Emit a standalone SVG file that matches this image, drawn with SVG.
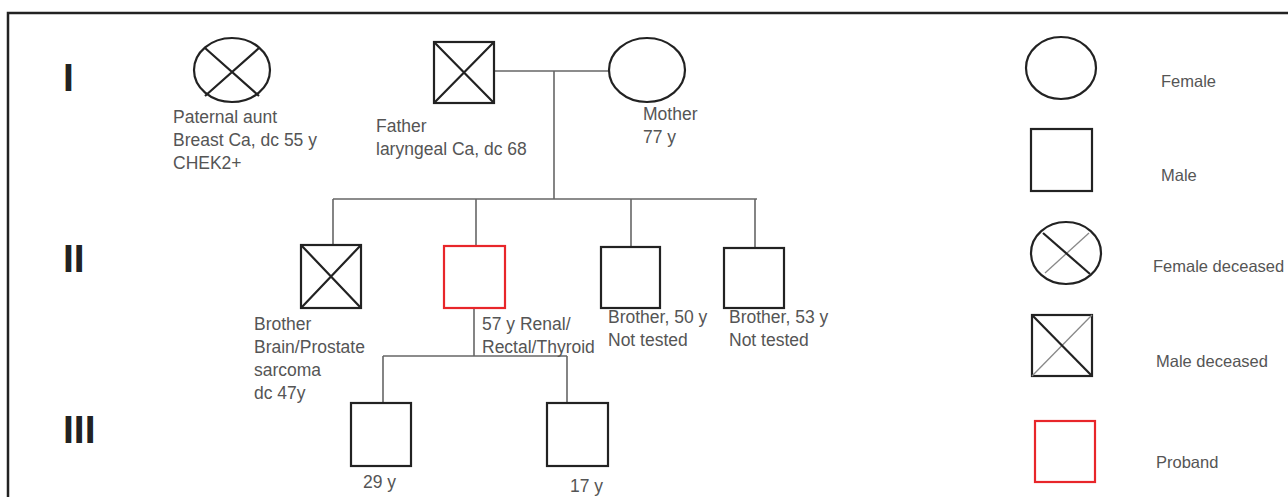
<svg xmlns="http://www.w3.org/2000/svg" width="1288" height="497" viewBox="0 0 1288 497">
<style>
.sym{fill:none;stroke:#222;stroke-width:2.2}
.thin{fill:none;stroke:#888;stroke-width:1.3}
.red{fill:none;stroke:#e8262a;stroke-width:2.2}
.con{fill:none;stroke:#666;stroke-width:1.6}
.t{font-family:"Liberation Sans",Arial,sans-serif;font-size:17.5px;fill:#555}
.lg{font-family:"Liberation Sans",Arial,sans-serif;font-size:16.5px;fill:#555}
.gen{font-family:"Liberation Sans",Arial,sans-serif;font-size:39px;font-weight:bold;fill:#222}
</style>
<rect width="1288" height="497" fill="#fff"/>
<path d="M8,497 V13 H1288" fill="none" stroke="#222" stroke-width="2.5"/>
<g id="gen-labels">
<text class="gen" x="63" y="91">I</text>
<text class="gen" x="63" y="272">II</text>
<text class="gen" x="63" y="443">III</text>
</g>
<g id="connectors">
<path class="con" d="M494,71 H609"/>
<path class="con" d="M554,71 V199"/>
<path class="con" d="M333,199 H757"/>
<path class="con" d="M333,199 V245"/>
<path class="con" d="M476,199 V246"/>
<path class="con" d="M631,199 V247"/>
<path class="con" d="M755,199 V248"/>
<path class="con" d="M474,308 V356"/>
<path class="con" d="M383,356 H567"/>
<path class="con" d="M383,356 V403"/>
<path class="con" d="M567,356 V403"/>
</g>
<g id="aunt">
<ellipse class="sym" cx="232" cy="70" rx="38" ry="32"/>
<path class="sym" d="M205,48 L259,96 M259,48 L205,96"/>
<text class="t" x="173" y="123">Paternal aunt</text>
<text class="t" x="173" y="146">Breast Ca, dc 55 y</text>
<text class="t" x="173" y="169">CHEK2+</text>
</g>
<g id="father">
<rect class="sym" x="434" y="42" width="60" height="61"/>
<path class="sym" d="M434,42 L494,103 M494,42 L434,103"/>
<text class="t" x="376" y="132">Father</text>
<text class="t" x="376" y="155">laryngeal Ca, dc 68</text>
</g>
<g id="mother">
<ellipse class="sym" cx="647" cy="70" rx="38" ry="32"/>
<text class="t" x="643" y="120">Mother</text>
<text class="t" x="643" y="143">77 y</text>
</g>
<g id="brother-deceased">
<rect class="sym" x="301" y="245" width="60" height="63"/>
<path class="sym" d="M301,245 L361,308 M361,245 L301,308"/>
<text class="t" x="254" y="330">Brother</text>
<text class="t" x="254" y="353">Brain/Prostate</text>
<text class="t" x="254" y="376">sarcoma</text>
<text class="t" x="254" y="399">dc 47y</text>
</g>
<g id="proband">
<rect class="red" x="444" y="246" width="61" height="62"/>
<text class="t" x="482" y="330">57 y Renal/</text>
<text class="t" x="482" y="353">Rectal/Thyroid</text>
</g>
<g id="brother-50">
<rect class="sym" x="601" y="247" width="59" height="61"/>
<text class="t" x="608" y="323">Brother, 50 y</text>
<text class="t" x="608" y="346">Not tested</text>
</g>
<g id="brother-53">
<rect class="sym" x="724" y="248" width="60" height="60"/>
<text class="t" x="729" y="323">Brother, 53 y</text>
<text class="t" x="729" y="346">Not tested</text>
</g>
<g id="child-29">
<rect class="sym" x="351" y="403" width="60" height="63"/>
<text class="t" x="363" y="488">29 y</text>
</g>
<g id="child-17">
<rect class="sym" x="547" y="403" width="61" height="63"/>
<text class="t" x="570" y="492">17 y</text>
</g>
<g id="legend-female">
<ellipse class="sym" cx="1061" cy="68" rx="35" ry="31"/>
<text class="lg" x="1161" y="87">Female</text>
</g>
<g id="legend-male">
<rect class="sym" x="1031" y="129" width="61" height="62"/>
<text class="lg" x="1161" y="181">Male</text>
</g>
<g id="legend-female-deceased">
<ellipse class="sym" cx="1066" cy="253" rx="35" ry="31"/>
<path class="thin" d="M1089,233 L1045,273"/>
<path class="sym" d="M1043,233 L1090,274"/>
<text class="lg" x="1153" y="272">Female deceased</text>
</g>
<g id="legend-male-deceased">
<rect class="sym" x="1032" y="315" width="60" height="61"/>
<path class="thin" d="M1092,315 L1032,376"/>
<path class="sym" d="M1032,315 L1092,376"/>
<text class="lg" x="1156" y="367">Male deceased</text>
</g>
<g id="legend-proband">
<rect class="red" x="1035" y="421" width="60" height="61"/>
<text class="lg" x="1156" y="468">Proband</text>
</g>
</svg>
